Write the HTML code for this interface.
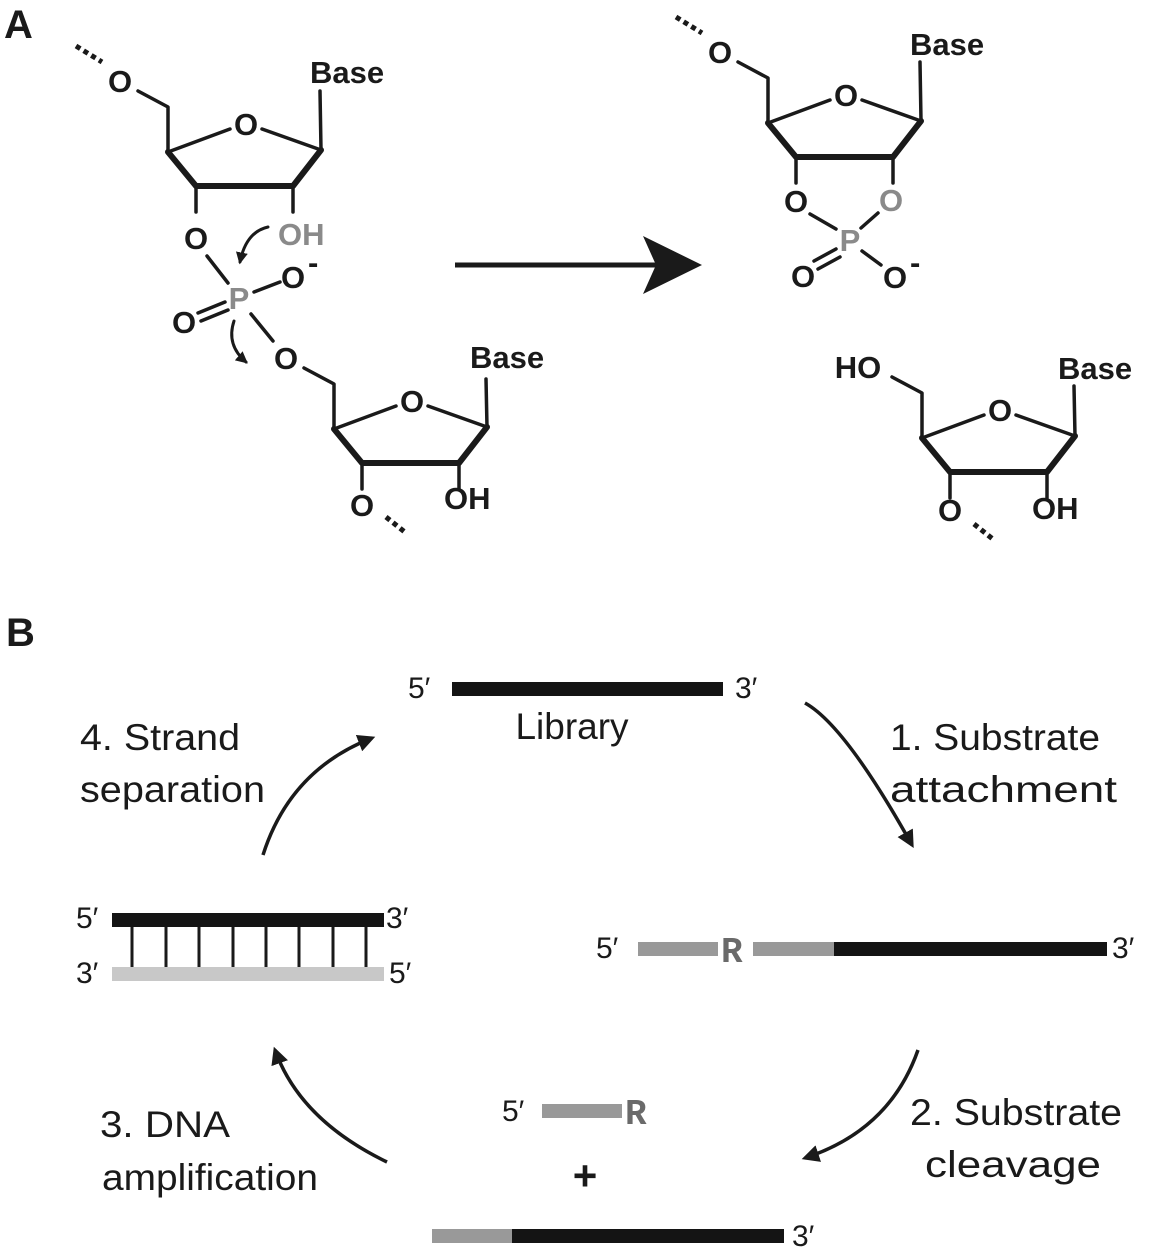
<!DOCTYPE html>
<html><head><meta charset="utf-8"><style>
html,body{margin:0;padding:0;background:#fff}
svg{display:block}
.b{font-family:"Liberation Sans",Arial,sans-serif;font-weight:bold;font-size:31px;fill:#1a1a1a}
.g{fill:#8a8a8a}
.t{font-family:"Liberation Sans",Arial,sans-serif;font-size:37px;fill:#1a1a1a}
.p{font-family:"Liberation Sans",Arial,sans-serif;font-size:30px;fill:#1a1a1a}
.m{font-family:"Liberation Mono",monospace;font-weight:bold;font-size:36px;fill:#6a6a6a}
</style></head><body>
<svg width="1150" height="1252" viewBox="0 0 1150 1252" xmlns="http://www.w3.org/2000/svg">
<defs>
<g id="sug" stroke="#1a1a1a" fill="none" stroke-linecap="round" stroke-linejoin="round">
  <path d="M-30,-61 L0,-45 L0,0 L62,-23" stroke-width="3.5"/>
  <path d="M94,-23 L153,-2" stroke-width="3.5"/>
  <path d="M0,0 L28,34 L125,34 L153,-2" stroke-width="6"/>
  <path d="M28,34 L28,60 M125,34 L125,60" stroke-width="3.5"/>
</g>
<marker id="ah" viewBox="0 0 10 10" refX="8" refY="5" markerWidth="5" markerHeight="5" orient="auto"><path d="M0,0 L10,5 L0,10 z" fill="#1a1a1a"/></marker>
<marker id="ah2" viewBox="0 0 10 10" refX="8" refY="5" markerWidth="4" markerHeight="4" orient="auto"><path d="M0,0 L10,5 L0,10 z" fill="#1a1a1a"/></marker>
</defs>

<text x="4" y="38" font-family="Liberation Sans,Arial,sans-serif" font-weight="bold" font-size="40" fill="#1a1a1a">A</text>

<g transform="translate(168,152)">
  <use href="#sug"/>
  <line x1="153" y1="-2" x2="152" y2="-61" stroke="#1a1a1a" stroke-width="3.5" stroke-linecap="round"/>
  <line x1="-92" y1="-106" x2="-66" y2="-90" stroke="#1a1a1a" stroke-width="5" stroke-dasharray="5,4"/>
  <text class="b" x="-48" y="-60" text-anchor="middle">O</text>
  <text class="b" x="78" y="-17" text-anchor="middle">O</text>
  <text class="b" x="142" y="-69">Base</text>
  <text class="b" x="28" y="97" text-anchor="middle">O</text>
  <text class="b g" x="110" y="93">OH</text>
</g>
<g stroke="#1a1a1a" stroke-width="3.5" fill="none" stroke-linecap="round">
  <path d="M207,256 L228,283"/>
  <path d="M254,292 L280,282"/>
  <path d="M225,302 L198,313 M228,310 L201,321"/>
  <path d="M251,314 L273,341"/>
  <path d="M268,227 Q246,232 240,262" stroke-width="3" marker-end="url(#ah2)"/>
  <path d="M234,321 Q226,345 246,362" stroke-width="3" marker-end="url(#ah2)"/>
</g>
<text class="b g" x="239" y="309" text-anchor="middle">P</text>
<text class="b" x="293" y="288" text-anchor="middle">O</text><text class="b" x="308" y="273" font-size="20">-</text>
<text class="b" x="184" y="333" text-anchor="middle">O</text>

<g transform="translate(334,429)">
  <use href="#sug"/>
  <line x1="153" y1="-2" x2="152" y2="-50" stroke="#1a1a1a" stroke-width="3.5" stroke-linecap="round"/>
  <text class="b" x="-48" y="-60" text-anchor="middle">O</text>
  <text class="b" x="78" y="-17" text-anchor="middle">O</text>
  <text class="b" x="136" y="-61">Base</text>
  <text class="b" x="28" y="87" text-anchor="middle">O</text>
  <text class="b" x="110" y="80">OH</text>
  <line x1="52" y1="88" x2="72" y2="104" stroke="#1a1a1a" stroke-width="5" stroke-dasharray="5,4"/>
</g>

<line x1="455" y1="265" x2="660" y2="265" stroke="#1a1a1a" stroke-width="5"/>
<path d="M643,236 L702,265 L643,294 L656,265 z" fill="#1a1a1a"/>

<g transform="translate(768,123)">
  <use href="#sug"/>
  <line x1="153" y1="-2" x2="152" y2="-61" stroke="#1a1a1a" stroke-width="3.5" stroke-linecap="round"/>
  <line x1="-92" y1="-106" x2="-66" y2="-90" stroke="#1a1a1a" stroke-width="5" stroke-dasharray="5,4"/>
  <text class="b" x="-48" y="-60" text-anchor="middle">O</text>
  <text class="b" x="78" y="-17" text-anchor="middle">O</text>
  <text class="b" x="142" y="-68">Base</text>
</g>
<g stroke="#1a1a1a" stroke-width="3.5" fill="none" stroke-linecap="round">
  <path d="M810,214 L836,229"/>
  <path d="M878,213 L861,228"/>
  <path d="M836,249 L814,261 M840,257 L818,269"/>
  <path d="M862,251 L881,265"/>
</g>
<text class="b" x="796" y="212" text-anchor="middle">O</text>
<text class="b g" x="891" y="211" text-anchor="middle">O</text>
<text class="b g" x="850" y="251" text-anchor="middle">P</text>
<text class="b" x="803" y="287" text-anchor="middle">O</text>
<text class="b" x="895" y="288" text-anchor="middle">O</text><text class="b" x="910" y="273" font-size="20">-</text>

<g transform="translate(922,438)">
  <use href="#sug"/>
  <line x1="153" y1="-2" x2="152" y2="-52" stroke="#1a1a1a" stroke-width="3.5" stroke-linecap="round"/>
  <text class="b" x="-64" y="-60" text-anchor="middle">HO</text>
  <text class="b" x="78" y="-17" text-anchor="middle">O</text>
  <text class="b" x="136" y="-59">Base</text>
  <text class="b" x="28" y="83" text-anchor="middle">O</text>
  <text class="b" x="110" y="81">OH</text>
  <line x1="52" y1="86" x2="72" y2="102" stroke="#1a1a1a" stroke-width="5" stroke-dasharray="5,4"/>
</g>

<text x="6" y="646" font-family="Liberation Sans,Arial,sans-serif" font-weight="bold" font-size="40" fill="#1a1a1a">B</text>

<text class="p" x="408" y="698">5′</text>
<rect x="452" y="682" width="271" height="14" fill="#141414"/>
<text class="p" x="735" y="698">3′</text>
<text class="t" x="572" y="739" text-anchor="middle">Library</text>

<path d="M805,703 Q845,725 912,845" stroke="#1a1a1a" stroke-width="3.5" fill="none" marker-end="url(#ah)"/>
<text class="t" x="890" y="750" textLength="210" lengthAdjust="spacingAndGlyphs">1. Substrate</text>
<text class="t" x="890" y="802" textLength="227" lengthAdjust="spacingAndGlyphs">attachment</text>

<text class="p" x="596" y="958">5′</text>
<rect x="638" y="942" width="80" height="14" fill="#999"/>
<text class="m" x="721" y="962">R</text>
<rect x="753" y="942" width="82" height="14" fill="#999"/>
<rect x="834" y="942" width="273" height="14" fill="#141414"/>
<text class="p" x="1112" y="958">3′</text>

<path d="M918,1050 Q890,1130 805,1158" stroke="#1a1a1a" stroke-width="3.5" fill="none" marker-end="url(#ah)"/>
<text class="t" x="910" y="1125" textLength="212" lengthAdjust="spacingAndGlyphs">2. Substrate</text>
<text class="t" x="925" y="1177" textLength="176" lengthAdjust="spacingAndGlyphs">cleavage</text>

<text class="p" x="502" y="1121">5′</text>
<rect x="542" y="1104" width="80" height="14" fill="#999"/>
<text class="m" x="625" y="1124">R</text>
<text x="585" y="1190" text-anchor="middle" font-family="Liberation Sans,Arial,sans-serif" font-weight="bold" font-size="42" fill="#1a1a1a">+</text>
<rect x="432" y="1229" width="81" height="14" fill="#999"/>
<rect x="512" y="1229" width="272" height="14" fill="#141414"/>
<text class="p" x="792" y="1246">3′</text>

<path d="M387,1162 Q300,1120 275,1050" stroke="#1a1a1a" stroke-width="3.5" fill="none" marker-end="url(#ah)"/>
<text class="t" x="100" y="1137" textLength="130" lengthAdjust="spacingAndGlyphs">3. DNA</text>
<text class="t" x="102" y="1190" textLength="216" lengthAdjust="spacingAndGlyphs">amplification</text>

<text class="p" x="76" y="928">5′</text>
<rect x="112" y="913" width="272" height="14" fill="#141414"/>
<text class="p" x="386" y="928">3′</text>
<g stroke="#1a1a1a" stroke-width="3">
  <line x1="132" y1="927" x2="132" y2="967"/><line x1="166" y1="927" x2="166" y2="967"/>
  <line x1="199" y1="927" x2="199" y2="967"/><line x1="233" y1="927" x2="233" y2="967"/>
  <line x1="266" y1="927" x2="266" y2="967"/><line x1="299" y1="927" x2="299" y2="967"/>
  <line x1="333" y1="927" x2="333" y2="967"/><line x1="366" y1="927" x2="366" y2="967"/>
</g>
<text class="p" x="76" y="983">3′</text>
<rect x="112" y="967" width="272" height="14" fill="#c8c8c8"/>
<text class="p" x="389" y="983">5′</text>

<path d="M263,855 Q290,770 372,738" stroke="#1a1a1a" stroke-width="3.5" fill="none" marker-end="url(#ah)"/>
<text class="t" x="80" y="750" textLength="160" lengthAdjust="spacingAndGlyphs">4. Strand</text>
<text class="t" x="80" y="802" textLength="185" lengthAdjust="spacingAndGlyphs">separation</text>
</svg>
</body></html>
